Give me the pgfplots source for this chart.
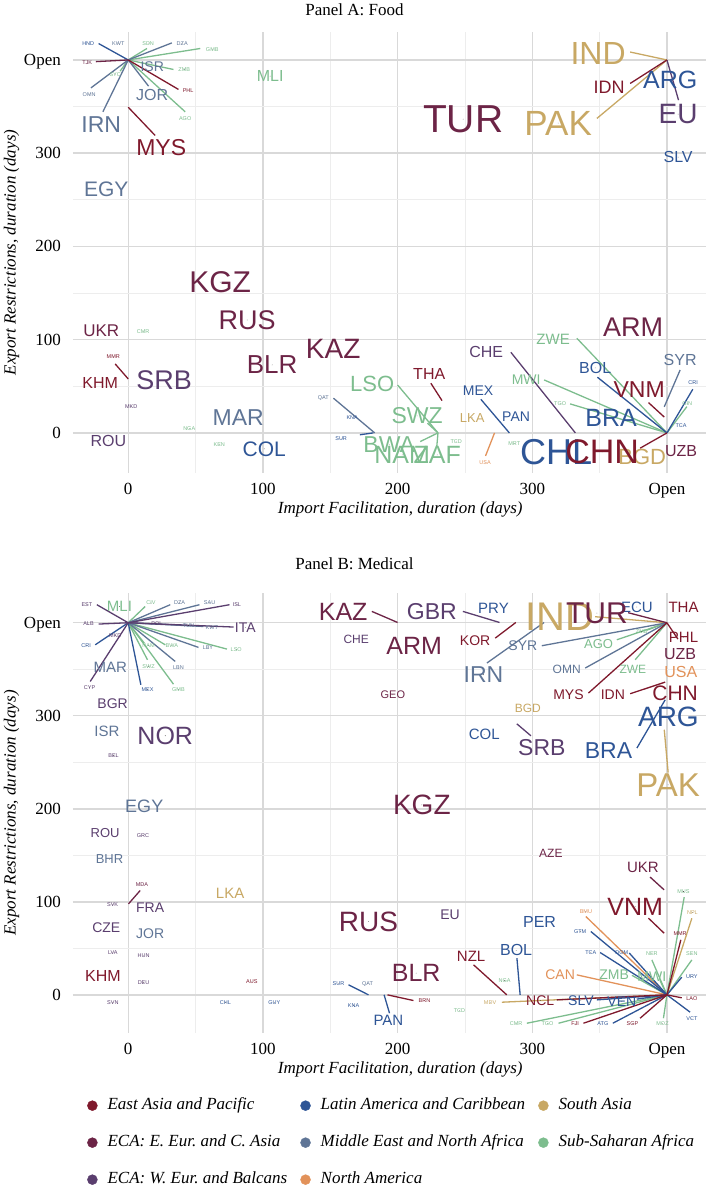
\documentclass[border=0pt]{standalone}
\usepackage{pgfplots}
\usepackage{pgfplotstable}
\usepackage{fontspec}
\pgfplotsset{compat=1.18}
\setmainfont{Liberation Serif}
\newfontfamily\labfont{Liberation Sans}
\frenchspacing

% region codes: 1 EAP, 2 ECA E, 3 ECA W, 4 LAC, 5 MENA, 6 NA, 7 SA, 8 SSA
\definecolor{c1}{RGB}{127,25,44}
\definecolor{c2}{RGB}{108,36,70}
\definecolor{c3}{RGB}{90,62,110}
\definecolor{c4}{RGB}{46,85,150}
\definecolor{c5}{RGB}{95,117,150}
\definecolor{c6}{RGB}{226,146,90}
\definecolor{c7}{RGB}{200,168,100}
\definecolor{c8}{RGB}{125,189,142}

\pgfplotsset{
  panel/.style={
    scale only axis, width=633pt,
    xmin=-41, xmax=429,
    xtick={0,100,200,300,400}, xticklabels={0,100,200,300,Open},
    ytick={0,100,200,300,400}, yticklabels={0,100,200,300,Open},
    minor xtick={50,150,250,350}, minor ytick={50,150,250,350},
    xmajorgrids, ymajorgrids, xminorgrids, yminorgrids,
    major grid style={line width=1.4pt, color=black!15},
    minor grid style={line width=0.8pt, color=black!7},
    axis line style={draw=none},
    major tick length=0pt, minor tick length=0pt,
    tick label style={font=\fontsize{17}{17}\selectfont},
    /pgf/number format/assume math mode=true,
    xticklabel style={anchor=base, inner sep=0pt, yshift=-22pt},
    yticklabel style={anchor=base east, inner sep=0pt, xshift=-12pt, yshift=-5.5pt},
    xlabel={Import Facilitation, duration (days)},
    ylabel={Export Restrictions, duration (days)},
    every axis x label/.style={at={(axis description cs:0.517,-0.083)}, anchor=center,
      font=\itshape\fontsize{17}{17}\selectfont},
    every axis y label/.style={at={(axis description cs:-0.097,0.5)}, anchor=center, rotate=90,
      font=\itshape\fontsize{17}{17}\selectfont},
    clip=false,
  },
}

\newcommand\segplot[2]{%
  \addplot[forget plot, no markers, color=c#2, line width=1.3pt,
    restrict expr to domain={\thisrow{reg}}{#2:#2},
    quiver={u=\thisrow{ex}-\thisrow{sx}, v=\thisrow{ey}-\thisrow{sy}}]
    table[x=sx, y=sy]{#1};
}
\newcommand\labplot[2]{%
  \addplot[forget plot, only marks, mark=*, mark size=0.01pt,
    mark options={draw=none, fill=none},
    restrict expr to domain={\thisrow{reg}}{#2:#2},
    point meta=explicit symbolic,
    visualization depends on={\thisrow{fs} \as \fs},
    nodes near coords,
    every node near coord/.append style={anchor=center, inner sep=0pt, text=c#2,
      font=\labfont\fontsize{\fs}{\fs}\selectfont}]
    table[x=x, y=y, meta=lab]{#1};
}

% ---------------- Panel A: labels (label position, font size, region code)
\pgfplotstableread{
lab x y fs reg
HND -29.7 418 5.5 4
KWT -7.4 418 5.5 5
SDN 14.8 418 5.5 8
DZA 40.1 418 5.5 5
GMB 62.4 411.6 5.5 8
TJK -30.4 396.6 5.5 2
ISR 17.8 392.3 14 5
SYC -9.7 384.8 5.5 8
ZMB 41.6 390 5.5 8
PHL 44.5 367.6 5.5 1
OMN -29 363.3 5.5 5
JOR 17.8 362.3 16 5
AGO 42.3 337.6 5.5 8
IRN -20 331.2 23 5
MYS 24.5 306.5 23 1
EGY -16.3 261.5 21 5
MLI 105.4 382.6 16 8
IND 348.9 407.3 32 7
IDN 357.1 370.8 18 1
ARG 402.4 378.3 25 4
EU 408.3 341.9 28 3
PAK 319.2 332.3 35 7
TUR 248.7 336.5 39 2
SLV 408.3 295.8 16 4
KGZ 68.3 161.8 30 2
RUS 88.3 121.1 27 2
BLR 106.9 72.9 26 2
UKR -20 109.3 17 2
CMR 11.1 108.3 5.5 8
MMR -11.1 81.5 5.5 1
KHM -20.8 53.6 16 1
SRB 26.7 56.8 27 3
MKD 2.2 27.9 5.5 3
NGA 45.3 4.3 5.5 8
MAR 81.7 16.1 23 5
ROU -14.8 -8.6 16 3
KEN 67.6 -12.9 5.5 8
COL 101 -17.1 21 4
KAZ 152.2 90 28 2
QAT 144.8 37.5 5.5 5
SUR 158.1 -6.4 5.5 4
KNA 166.3 16.1 5.5 4
ZWE 315.5 100.7 15 8
ARM 374.9 113.6 27 2
CHE 265.8 86.8 16 3
SYR 409.8 78.2 16 5
BOL 346.7 69.7 16 4
MWI 295.5 56.8 14 8
VNM 379.4 46.1 23 1
CRI 419.5 53.6 5.5 4
THA 223.5 63.2 16 1
LSO 181.1 52.5 22 8
MEX 259.8 45 14 4
SWZ 214.5 18.2 23 8
LKA 255.4 16.1 13 7
PAN 288 17.1 14 4
TGO 320.7 31.1 5.5 8
BRA 358.6 16.1 25 4
GIN 415 31.1 5.5 8
TCA 410.5 7.5 5.5 4
TCD 243.5 -9.6 5.5 8
MRT 286.6 -11.8 5.5 8
USA 265 -32.2 5.5 6
BWA 193.8 -12.9 23 8
NAM 203.4 -23.6 25 8
ZAF 229.4 -23.6 25 8
CHL 317.7 -20.4 36 4
CHN 351.9 -20.4 34 1
BGD 381.6 -25.7 22 7
UZB 410.5 -19.3 16 2
}\labA

% ---------------- Panel A: segments from label (sx,sy) to data point (ex,ey)
\pgfplotstableread{
sx sy ex ey reg
-22 417.6 0 400 4
13.9 412.3 0 400 8
32.4 418.3 0 400 5
53.5 412.3 0 400 8
-24 398.2 0 400 2
-6 388 0 400 8
33.6 389.8 0 400 8
37.3 368.4 0 400 1
-27.7 370 0 400 5
15.1 371.9 0 400 5
42.3 344.4 0 400 8
-18.8 344.4 0 400 5
20 319 0 349.3 1
372.7 408.5 400 400 7
372.7 374.8 400 400 1
348 337.3 400 400 7
408.6 356.9 400 400 3
-9.7 74 0 57.9 1
152.4 37.2 183 0 5
172 -2 182 0 4
333.1 101.5 400 0 8
308.8 56.8 400 0 8
328.1 31.1 400 0 8
348.4 59.7 400 0 4
386.3 32.5 398 17 1
409.8 67.5 398 28 5
419.2 46.8 400 0 4
414.8 28.2 400 0 8
380.1 -16.4 400 0 1
284.1 86.5 332 0 3
224.7 53.3 233 34.6 1
200 51.4 230 0 8
222.2 10.4 230 0 8
216.8 -9.3 230 0 8
229.1 -14.7 230 0 8
261.8 36.1 283 0 4
265.3 -24.7 272 0 6
}\segA

% ---------------- Panel B: labels
\pgfplotstableread{
lab x y fs reg
EST -30.7 419.4 5.5 3
MLI -6.5 417.5 15 8
CIV 16.9 421.2 5.5 8
DZA 38.1 421.2 5.5 5
SAU 60.4 421.2 5.5 5
ISL 80.7 419.4 5.5 3
ALB -29.5 398.6 5.5 3
ITA 86.9 395 14 3
KWT 62.1 395 5.5 5
TUN 44.8 397 5.5 5
POL 21.3 398.6 5.5 3
MKD -9.7 386.3 5.5 3
CRI -31.2 375.6 5.5 4
BWA 32.4 375.3 5.5 8
NAM 15.1 375.6 5.5 8
LBY 59.2 372.8 5.5 5
LSO 80.2 371 5.5 8
MAR -13.4 352 15 5
CYP -28.7 330.4 5.5 3
SWZ 15.1 353 5.5 8
LBN 37.3 351.3 5.5 5
MEX 14.3 328 5.5 4
GMB 37.3 328 5.5 8
BGR -11.6 312.6 14 3
ISR -15.8 283.1 15 5
NOR 27.5 278.5 25 3
BEL -10.9 257.3 5.5 3
KAZ 159.6 411.8 25 2
CHE 169.3 381.7 12 3
GBR 225.4 412.2 23 3
ARM 212.3 375.3 25 2
PRY 271.2 415.8 15 4
KOR 257.6 381 14 1
IND 320.7 406.8 40 7
TUR 348 410.4 30 2
ECU 377.7 416.9 15 4
THA 412.3 416.9 15 1
SYR 293 375.3 14 5
IRN 263.8 344.1 23 5
AGO 349.2 377.4 13 8
ZMB 381.3 390.6 5.5 8
PHL 412.3 384.6 15 1
UZB 409.8 366.7 16 2
OMN 325.6 350.2 12 5
ZWE 374.7 350.2 12 8
USA 410.3 347.6 16 6
MYS 326.9 322.6 14 1
IDN 359.8 322.6 14 1
CHN 406.1 323.7 21 1
GEO 196.5 322.6 11 2
BGD 296.7 308.3 12 7
ARG 401.1 299.3 28 4
COL 264.3 279.6 15 4
SRB 307.1 265.3 23 3
BRA 356.6 262.7 23 4
PAK 400.9 225.8 33 7
EGY 11.9 202.5 18 5
ROU -17.1 173.9 13 3
GRC 10.9 171.7 5.5 3
BHR -13.9 145.9 13 5
MDA 10.2 118.3 5.5 2
LKA 75.7 108.6 15 7
SVK -11.6 96.8 5.5 3
FRA 16.3 93.9 14 3
CZE -16.3 71.7 14 3
JOR 16.3 66.3 14 5
LVA -11.4 45.9 5.5 3
HUN 11.4 41.9 5.5 3
KHM -18.8 20.4 16 1
DEU 11.4 13.2 5.5 3
AUS 91.8 14 5.5 1
SVN -11.4 -8.3 5.5 3
CHL 72.2 -8.3 5.5 4
GUY 108.4 -8.3 5.5 4
KGZ 218 204.3 28 2
AZE 313.8 151.6 12 2
UKR 382.1 136.9 15 2
MUS 412.3 111.1 5.5 8
RUS 178.4 78.8 28 2
EU 239 86 14 3
PER 305.4 78.8 16 4
VNM 376.4 94.9 25 1
BMU 339.8 89.6 5.5 6
NPL 418.9 88.5 5.5 7
GTM 335.6 68.1 5.5 4
MMR 409.8 66.3 5.5 1
TCA 343.5 45.5 5.5 4
DOM 366.5 45.5 5.5 4
NER 388.8 44.8 5.5 8
SEN 418.5 44.8 5.5 8
NZL 254.6 41.2 15 1
BOL 288 47.7 16 4
NGA 279.4 15.4 5.5 8
CAN 320.7 21.5 14 6
ZMB 360.8 21.5 14 8
MWI 388.8 19.7 14 8
URY 418.5 19.7 5.5 4
BLR 213.8 23.3 25 2
QAT 177.7 11.8 5.5 5
SUR 156.1 11.8 5.5 4
KNA 167.3 -11.5 5.5 4
BRN 220 -6.5 5.5 1
PAN 193.2 -27.6 15 4
TCD 246 -17.2 5.5 8
MDV 268.7 -7.9 5.5 7
NCL 305.9 -6.1 14 1
SLV 336.1 -6.1 14 4
VEN 366.5 -7.2 14 4
LAO 418.5 -3.6 5.5 1
VCT 418.5 -25.8 5.5 4
CMR 288 -31.2 5.5 8
TGO 311.3 -31.2 5.5 8
FJI 331.8 -31.2 5.5 1
ATG 352.4 -31.2 5.5 4
SGP 374.4 -31.2 5.5 1
MOZ 396.7 -31.2 5.5 8
}\labB

% ---------------- Panel B: segments
\pgfplotstableread{
sx sy ex ey reg
-23.3 419.4 0 400 3
12.6 417.5 0 400 8
31.2 419.4 0 400 5
52.9 419.4 0 400 5
75.2 419.4 0 400 3
-22 398.6 0 400 3
78.2 395.4 0 400 3
55.9 396 0 400 5
40 397.5 0 400 5
-24.5 376.3 0 400 4
27.5 376.3 0 400 8
52.2 373.5 0 400 5
73.3 371.7 0 400 8
-28.2 336.9 0 400 3
14.3 360.2 0 400 8
34.9 358.4 0 400 5
9.4 333.3 0 400 4
33.6 334 0 400 8
12 378 0 400 8
180.9 412.2 200 400.3 2
248.5 412.2 275.7 400.3 3
272.5 383.5 287.8 400.3 1
266.3 356.7 308.8 400.3 5
346.7 406.5 400 400 7
371.2 410.8 400 400 2
307.1 375.3 400 400 5
362.8 381.7 400 400 8
385 392 400 400 8
408.1 382.5 400 400 1
339.3 351.3 400 400 5
376.4 360.2 400 400 8
341.7 324.4 400 400 1
372.7 323.7 398.7 336.2 1
299 278.5 288.5 291.4 3
377.7 265.3 398.7 317.2 4
400.9 239 398 285 7
387.5 126.6 397.9 112.9 2
412.8 105 400 0 8
386.3 82.4 397.9 66.3 1
339.8 84.2 400 0 6
418.5 82.4 400 0 7
343.5 68.1 400 0 4
410.3 59.1 400 0 1
350.4 45.5 400 0 4
372 45 400 0 4
388.8 37.6 400 0 8
418.5 37.6 400 0 8
333.1 21.5 400 0 6
374 21 400 0 8
395 15 400 0 8
411 19 400 0 4
256.4 32.3 281.1 0 1
288.6 39.5 291 0 4
163.6 10.8 178.4 0 4
211.8 -6.1 192.5 0 1
194 -19.7 190 0 4
277.4 -7.9 400 0 7
318.2 -5.4 400 0 1
348 -5.4 400 0 4
377.6 -4.6 400 0 4
411 -3.2 400 0 1
417.2 -18.6 400 0 4
296 -30.5 400 0 8
319.5 -30.5 400 0 8
338 -30.5 400 0 1
359.8 -30.5 400 0 4
380.1 -25.1 400 0 1
397.4 -25.1 400 0 8
8.9 112.2 0.2 97.8 2
}\segB

\pgfplotsset{dot/.style={legend image code/.code={\fill[#1] (0pt,0pt) circle (5pt); \path (13pt,0pt);}}}

\begin{document}
\begin{tikzpicture}
\useasboundingbox (0pt,0pt) rectangle (709pt,1188pt);

% ================= Panel A
\begin{axis}[panel, height=441pt, ymin=-43, ymax=430,
  at={(73pt,715pt)}, anchor=south west,
  title={Panel A: Food},
  title style={font=\fontsize{17}{17}\selectfont, at={(axis description cs:0.4447,1)}, anchor=base, yshift=10.5pt}]
\segplot{\segA}{8}\segplot{\segA}{7}\segplot{\segA}{6}\segplot{\segA}{5}
\segplot{\segA}{4}\segplot{\segA}{3}\segplot{\segA}{2}\segplot{\segA}{1}
\labplot{\labA}{8}\labplot{\labA}{7}\labplot{\labA}{6}\labplot{\labA}{5}
\labplot{\labA}{4}\labplot{\labA}{3}\labplot{\labA}{2}\labplot{\labA}{1}
\end{axis}

% ================= Panel B
\begin{axis}[panel, height=440pt, ymin=-41, ymax=432,
  at={(73pt,155pt)}, anchor=south west,
  title={Panel B: Medical},
  title style={font=\fontsize{17}{17}\selectfont, at={(axis description cs:0.4447,1)}, anchor=base, yshift=17.5pt},
  legend columns=3,
  legend cell align=left,
  legend style={at={(axis description cs:0.0221,-0.1431)}, anchor=north west,
    draw=none, fill=none, inner sep=0pt,
    font=\itshape\fontsize{17}{17}\selectfont,
    nodes={inner sep=2pt, text height=11pt, text depth=4pt},
    row sep=18pt,
    /tikz/every even column/.append style={column sep=11pt}}]
\segplot{\segB}{8}\segplot{\segB}{7}\segplot{\segB}{6}\segplot{\segB}{5}
\segplot{\segB}{4}\segplot{\segB}{3}\segplot{\segB}{2}\segplot{\segB}{1}
\labplot{\labB}{8}\labplot{\labB}{7}\labplot{\labB}{6}\labplot{\labB}{5}
\labplot{\labB}{4}\labplot{\labB}{3}\labplot{\labB}{2}\labplot{\labB}{1}
\addlegendimage{dot=c1}
\addlegendentry{East Asia and Pacific}
\addlegendimage{dot=c4}
\addlegendentry{Latin America and Caribbean}
\addlegendimage{dot=c7}
\addlegendentry{South Asia}
\addlegendimage{dot=c2}
\addlegendentry{ECA: E. Eur. and C. Asia}
\addlegendimage{dot=c5}
\addlegendentry{Middle East and North Africa}
\addlegendimage{dot=c8}
\addlegendentry{Sub-Saharan Africa}
\addlegendimage{dot=c3}
\addlegendentry{ECA: W. Eur. and Balcans}
\addlegendimage{dot=c6}
\addlegendentry{North America}
\end{axis}
\end{tikzpicture}
\end{document}
